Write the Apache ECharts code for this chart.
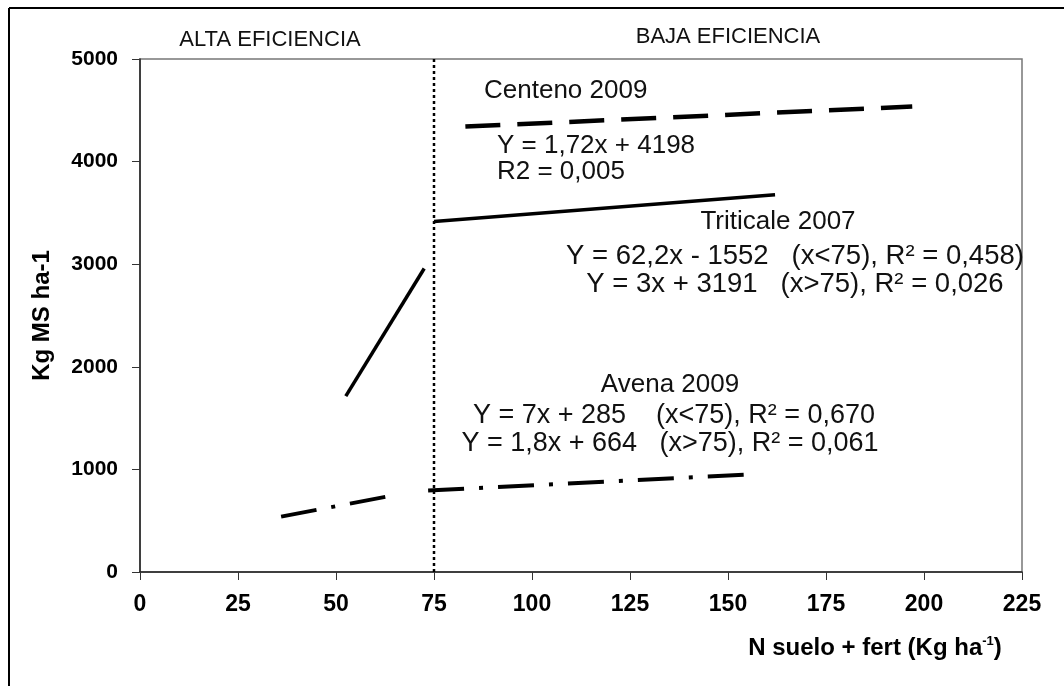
<!DOCTYPE html>
<html>
<head>
<meta charset="utf-8">
<script src="https://cdn.jsdelivr.net/npm/echarts@6/dist/echarts.min.js"></script>
<style>html,body{margin:0;padding:0;background:#fff;}#c{width:1064px;height:686px;}</style>
</head>
<body>
<div id="c"></div>
<script>
// Data
const xTicks = [0, 25, 50, 75, 100, 125, 150, 175, 200, 225];
const yTicks = [0, 1000, 2000, 3000, 4000, 5000];
const centenoX = [83, 197];
const centenoY = [4341, 4537];
const triticaleLowX = [52.5, 72.5];
const triticaleLowY = [1714, 2958];
const triticaleHighX = [75, 162];
const triticaleHighY = [3416, 3677];
const avenaLowX = [36, 63];
const avenaLowY = [540, 735];
const avenaHighX = [73.5, 154];
const avenaHighY = [795, 948];
const thresholdX = [75, 75];
const thresholdY = [0, 5000];

const annotations = [
  {t: 'Centeno 2009', x: 484, y: 91, a: 'left', s: 26},
  {t: 'Y = 1,72x + 4198', x: 497, y: 146, a: 'left', s: 26},
  {t: 'R2 = 0,005', x: 497, y: 172, a: 'left', s: 26},
  {t: 'Triticale 2007', x: 778, y: 222, a: 'center', s: 26},
  {t: 'Y = 62,2x - 1552   (x<75), R\u00B2 = 0,458)', x: 795, y: 256, a: 'center', s: 27.5},
  {t: 'Y = 3x + 3191   (x>75), R\u00B2 = 0,026', x: 795, y: 284, a: 'center', s: 27.5},
  {t: 'Avena 2009', x: 670, y: 385, a: 'center', s: 26},
  {t: 'Y = 7x + 285    (x<75), R\u00B2 = 0,670', x: 674, y: 416, a: 'center', s: 27},
  {t: 'Y = 1,8x + 664   (x>75), R\u00B2 = 0,061', x: 670, y: 444, a: 'center', s: 27}
];
const regionLabels = [
  {t: 'ALTA EFICIENCIA', x: 270, y: 40},
  {t: 'BAJA EFICIENCIA', x: 728, y: 37}
];

function pairs(xs, ys) { return xs.map((x, i) => [x, ys[i]]); }

const FONT = '"Liberation Sans", Arial, sans-serif';
const chart = echarts.init(document.getElementById('c'), null, {renderer: 'canvas'});

const graphics = [
  {type: 'line', shape: {x1: 9, y1: 8, x2: 1064, y2: 8}, style: {stroke: '#000', lineWidth: 2}},
  {type: 'line', shape: {x1: 9, y1: 8, x2: 9, y2: 686}, style: {stroke: '#000', lineWidth: 2}}
];
annotations.forEach(a => graphics.push({
  type: 'text', x: a.x, y: a.y, z: 10,
  style: {text: a.t, fill: '#111', font: a.s + 'px ' + FONT, textAlign: a.a, textVerticalAlign: 'middle'}
}));
regionLabels.forEach(a => graphics.push({
  type: 'text', x: a.x, y: a.y, z: 10,
  style: {text: a.t, fill: '#111', font: '22px ' + FONT, textAlign: 'center', textVerticalAlign: 'middle'}
}));

chart.setOption({
  animation: false,
  backgroundColor: '#fff',
  grid: {left: 140, right: 42, top: 59, bottom: 114, show: true, borderColor: '#777', borderWidth: 1.5, backgroundColor: 'transparent'},
  xAxis: {
    type: 'value', min: 0, max: 225, interval: 25,
    axisLine: {show: true, lineStyle: {color: '#222', width: 1.5}},
    axisTick: {show: true, inside: false, length: 8, lineStyle: {color: '#333', width: 1}},
    splitLine: {show: false},
    axisLabel: {color: '#000', fontWeight: 'bold', fontSize: 23, fontFamily: FONT, margin: 21,
      formatter: v => xTicks.includes(v) ? String(v) : ''},
    name: '{a|N suelo + fert (Kg ha}{s|-1}{a|)}',
    nameLocation: 'middle', nameGap: 63,
    nameTextStyle: {padding: [0, 0, 0, 588], rich: {
      a: {fontSize: 24, fontWeight: 'bold', fontFamily: FONT, color: '#000', lineHeight: 26},
      s: {fontSize: 13, fontWeight: 'bold', fontFamily: FONT, color: '#000', verticalAlign: 'top', lineHeight: 26, padding: [0, 0, 10, 0]}
    }}
  },
  yAxis: {
    type: 'value', min: 0, max: 5000, interval: 1000,
    axisLine: {show: true, lineStyle: {color: '#222', width: 1.5}},
    axisTick: {show: true, inside: false, length: 8, lineStyle: {color: '#333', width: 1}},
    splitLine: {show: false},
    axisLabel: {color: '#000', fontWeight: 'bold', fontSize: 21, fontFamily: FONT, margin: 22,
      formatter: v => yTicks.includes(v) ? String(v) : ''},
    name: 'Kg MS ha-1', nameLocation: 'middle', nameGap: 86,
    nameTextStyle: {fontSize: 24, fontWeight: 'bold', fontFamily: FONT, color: '#000'}
  },
  series: [
    {type: 'line', data: pairs(thresholdX, thresholdY), symbol: 'none', silent: true,
      lineStyle: {color: '#000', width: 2.5, type: [3, 3]}},
    {type: 'line', data: pairs(centenoX, centenoY), symbol: 'none',
      lineStyle: {color: '#000', width: 4.5, type: [35, 17], cap: 'butt'}},
    {type: 'line', data: pairs(triticaleLowX, triticaleLowY), symbol: 'none',
      lineStyle: {color: '#000', width: 3.5}},
    {type: 'line', data: pairs(triticaleHighX, triticaleHighY), symbol: 'none',
      lineStyle: {color: '#000', width: 3.5}},
    {type: 'line', data: pairs(avenaLowX, avenaLowY), symbol: 'none',
      lineStyle: {color: '#000', width: 4, type: [36, 15, 4, 15], cap: 'butt'}},
    {type: 'line', data: pairs(avenaHighX, avenaHighY), symbol: 'none',
      lineStyle: {color: '#000', width: 4, type: [36, 15, 4, 15], cap: 'butt'}}
  ],
  graphic: graphics
});
</script>
</body>
</html>
